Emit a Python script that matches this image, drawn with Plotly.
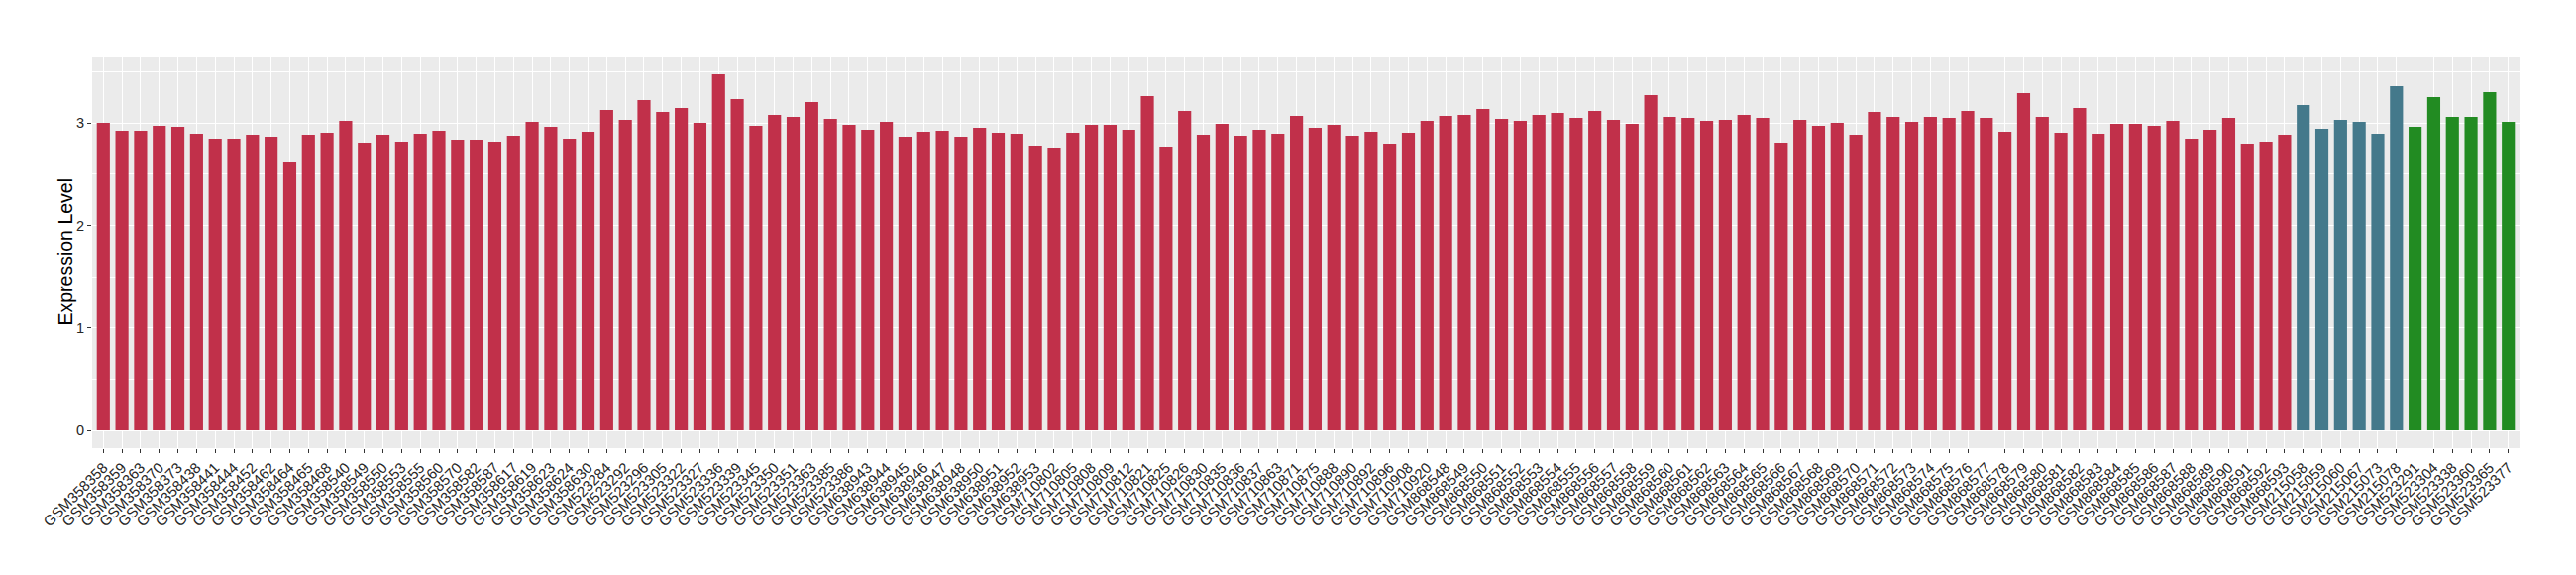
import plotly.graph_objects as go

samples = [
    "GSM358358", "GSM358359", "GSM358363", "GSM358370", "GSM358373", "GSM358438", "GSM358441", "GSM358444",
    "GSM358452", "GSM358462", "GSM358464", "GSM358465", "GSM358468", "GSM358540", "GSM358549", "GSM358550",
    "GSM358553", "GSM358555", "GSM358560", "GSM358570", "GSM358582", "GSM358587", "GSM358617", "GSM358619",
    "GSM358623", "GSM358624", "GSM358630", "GSM523284", "GSM523292", "GSM523296", "GSM523305", "GSM523322",
    "GSM523327", "GSM523336", "GSM523339", "GSM523345", "GSM523350", "GSM523351", "GSM523363", "GSM523385",
    "GSM523386", "GSM638943", "GSM638944", "GSM638945", "GSM638946", "GSM638947", "GSM638948", "GSM638950",
    "GSM638951", "GSM638952", "GSM638953", "GSM710802", "GSM710805", "GSM710808", "GSM710809", "GSM710812",
    "GSM710821", "GSM710825", "GSM710826", "GSM710830", "GSM710835", "GSM710836", "GSM710837", "GSM710863",
    "GSM710871", "GSM710875", "GSM710888", "GSM710890", "GSM710892", "GSM710896", "GSM710908", "GSM710920",
    "GSM868548", "GSM868549", "GSM868550", "GSM868551", "GSM868552", "GSM868553", "GSM868554", "GSM868555",
    "GSM868556", "GSM868557", "GSM868558", "GSM868559", "GSM868560", "GSM868561", "GSM868562", "GSM868563",
    "GSM868564", "GSM868565", "GSM868566", "GSM868567", "GSM868568", "GSM868569", "GSM868570", "GSM868571",
    "GSM868572", "GSM868573", "GSM868574", "GSM868575", "GSM868576", "GSM868577", "GSM868578", "GSM868579",
    "GSM868580", "GSM868581", "GSM868582", "GSM868583", "GSM868584", "GSM868585", "GSM868586", "GSM868587",
    "GSM868588", "GSM868589", "GSM868590", "GSM868591", "GSM868592", "GSM868593",
    "GSM215058", "GSM215059", "GSM215060", "GSM215067", "GSM215073", "GSM215078",
    "GSM523291", "GSM523304", "GSM523338", "GSM523360", "GSM523365", "GSM523377",
]

values = [
    3.003, 2.926, 2.926, 2.974, 2.964, 2.897, 2.848, 2.848, 2.887, 2.868, 2.625,
    2.887, 2.906, 3.023, 2.809, 2.887, 2.819, 2.897, 2.926, 2.838, 2.838, 2.819,
    2.877, 3.013, 2.964, 2.848, 2.916, 3.129, 3.032, 3.226, 3.110, 3.149, 3.003,
    3.478, 3.236, 2.974, 3.081, 3.061, 3.207, 3.042, 2.984, 2.935, 3.013, 2.868,
    2.916, 2.926, 2.868, 2.955, 2.906, 2.897, 2.780, 2.761, 2.906, 2.984, 2.984, 2.935,
    3.265, 2.770, 3.120, 2.887, 2.994, 2.877, 2.935, 2.897, 3.071, 2.955, 2.984,
    2.877, 2.916, 2.800, 2.906, 3.023, 3.071, 3.081, 3.139, 3.042, 3.023, 3.081,
    3.100, 3.052, 3.120, 3.032, 2.994, 3.275, 3.061, 3.052, 3.023, 3.032, 3.081,
    3.052, 2.809, 3.032, 2.974, 3.003, 2.887, 3.110, 3.061, 3.013, 3.061, 3.052,
    3.120, 3.052, 2.916, 3.294, 3.061, 2.906, 3.149, 2.897, 2.994, 2.994, 2.974,
    3.023, 2.848, 2.935, 3.052, 2.800, 2.819, 2.887,
    3.178, 2.945, 3.032, 3.013, 2.897, 3.362,
    2.964, 3.255, 3.061, 3.061, 3.304, 3.013,
]

groups = ["A"] * 118 + ["B"] * 6 + ["C"] * 6
group_colors = {"A": "#C1304A", "B": "#44798B", "C": "#228B22"}
bar_colors = [group_colors[g] for g in groups]

fig = go.Figure(
    go.Bar(
        x=samples,
        y=values,
        marker=dict(color=bar_colors, line=dict(width=0)),
        width=0.7,
        showlegend=False,
    )
)

font_family = "Liberation Sans, Arial, Helvetica, sans-serif"
ymax = max(values)

W, H = 2592, 572
ML, MR, MT, MB = 85, 57, 49, 128

# page body adds an 8px offset; figure sized so the panel lands where the reference has it
fig.update_layout(
    width=W,
    height=H,
    margin=dict(l=ML, r=MR, t=MT, b=MB, autoexpand=False),
    paper_bgcolor="white",
    plot_bgcolor="#EBEBEB",
    font=dict(family=font_family, color="#000000"),
    bargap=0.3,
)

fig.update_xaxes(
    type="category",
    range=[-0.6, len(samples) - 0.4],
    tickangle=-45,
    tickfont=dict(size=15, color="#262626", family=font_family),
    showgrid=True,
    gridcolor="white",
    gridwidth=1.1,
    ticks="outside",
    ticklen=4,
    tickwidth=1,
    tickcolor="#333333",
    showline=False,
    zeroline=False,
    automargin=False,
)

fig.update_yaxes(
    range=[-0.05 * ymax, 1.05 * ymax],
    tickmode="array",
    tickvals=[0, 1, 2, 3],
    ticktext=["0", "1", "2", "3"],
    tickfont=dict(size=14.5, color="#262626", family=font_family),
    showgrid=True,
    gridcolor="white",
    gridwidth=1.1,
    minor=dict(tickmode="array", tickvals=[0.5, 1.5, 2.5, 3.5], showgrid=True,
               gridcolor="white", gridwidth=0.5, ticks=""),
    ticks="outside",
    ticklen=4,
    tickwidth=1,
    tickcolor="#333333",
    zeroline=False,
    showline=False,
    automargin=False,
)

# y-axis title placed as rotated text left of the tick labels
fig.add_annotation(
    text="Expression Level",
    xref="paper", yref="paper",
    x=(57 - ML) / (W - ML - MR), y=0.5,
    xanchor="center", yanchor="middle",
    textangle=-90,
    showarrow=False,
    font=dict(size=19.5, color="#000000", family=font_family),
)

fig.write_html("out.html")
